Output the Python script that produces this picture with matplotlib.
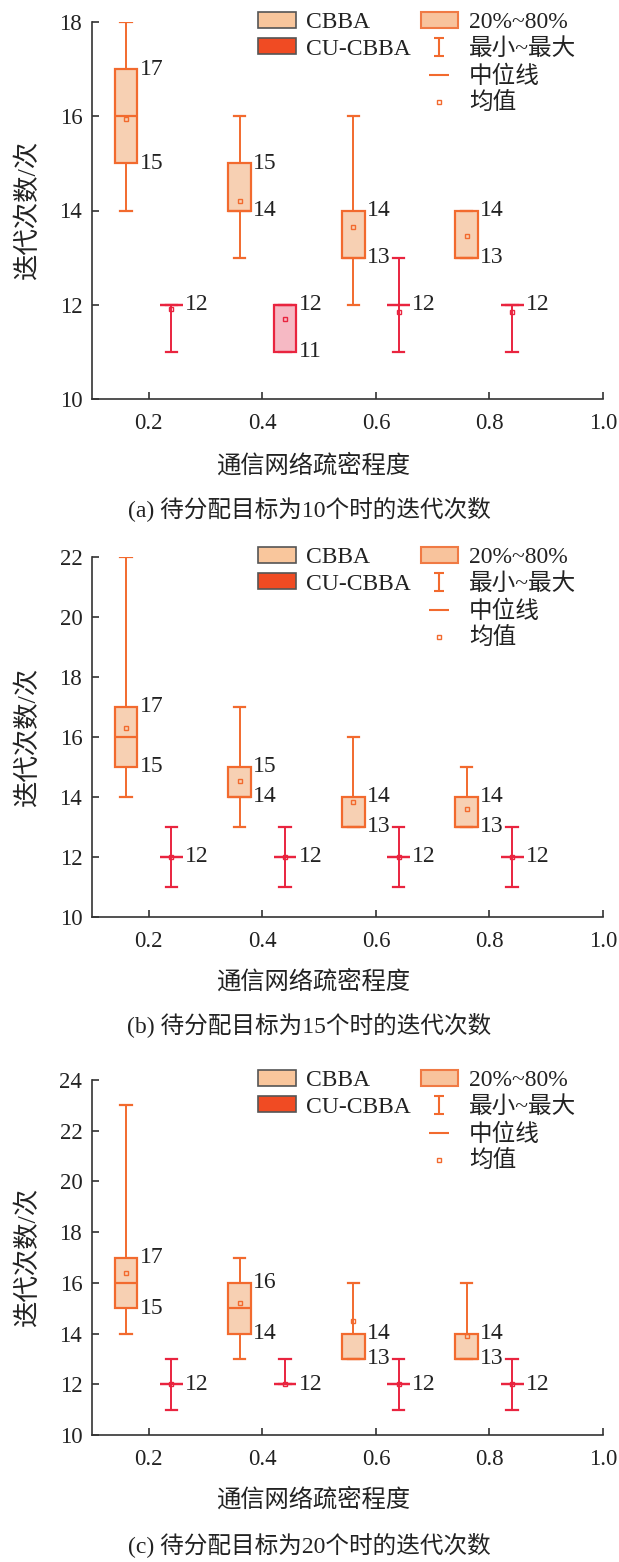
import matplotlib
matplotlib.use("Agg")
import matplotlib.pyplot as plt
from matplotlib.patches import Patch
from matplotlib.lines import Line2D
from matplotlib.path import Path

plt.rcParams['font.family'] = ['Liberation Serif', 'Noto Sans CJK SC']
plt.rcParams['axes.unicode_minus'] = False

# ---- data -------------------------------------------------------------
density_ticks = [0.2, 0.4, 0.6, 0.8, 1.0]
cbba_pos = [0.16, 0.36, 0.56, 0.76]
cu_pos = [0.24, 0.44, 0.64, 0.84]

# (a) 10 targets
a_cbba_min = [14, 13, 12, 13]
a_cbba_q20 = [15, 14, 13, 13]
a_cbba_med = [16, 14, 13, 13]
a_cbba_q80 = [17, 15, 14, 14]
a_cbba_max = [18, 16, 16, 14]
a_cbba_mean = [15.95, 14.2, 13.65, 13.45]
a_cu_min = [11, 11, 11, 11]
a_cu_q20 = [12, 11, 12, 12]
a_cu_med = [12, 12, 12, 12]
a_cu_q80 = [12, 12, 12, 12]
a_cu_max = [12, 12, 13, 12]
a_cu_mean = [11.9, 11.7, 11.85, 11.85]

# (b) 15 targets
b_cbba_min = [14, 13, 13, 13]
b_cbba_q20 = [15, 14, 13, 13]
b_cbba_med = [16, 14, 13, 13]
b_cbba_q80 = [17, 15, 14, 14]
b_cbba_max = [22, 17, 16, 15]
b_cbba_mean = [16.3, 14.55, 13.85, 13.6]
b_cu_min = [11, 11, 11, 11]
b_cu_q20 = [12, 12, 12, 12]
b_cu_med = [12, 12, 12, 12]
b_cu_q80 = [12, 12, 12, 12]
b_cu_max = [13, 13, 13, 13]
b_cu_mean = [12, 12, 12, 12]

# (c) 20 targets
c_cbba_min = [14, 13, 13, 13]
c_cbba_q20 = [15, 14, 13, 13]
c_cbba_med = [16, 15, 13, 13]
c_cbba_q80 = [17, 16, 14, 14]
c_cbba_max = [23, 17, 16, 16]
c_cbba_mean = [16.4, 15.2, 14.5, 13.9]
c_cu_min = [11, 12, 11, 11]
c_cu_q20 = [12, 12, 12, 12]
c_cu_med = [12, 12, 12, 12]
c_cu_q80 = [12, 12, 12, 12]
c_cu_max = [13, 13, 13, 13]
c_cu_mean = [12, 12, 12, 12]

panels = [
    dict(cbba=(a_cbba_min, a_cbba_q20, a_cbba_med, a_cbba_q80, a_cbba_max, a_cbba_mean),
         cu=(a_cu_min, a_cu_q20, a_cu_med, a_cu_q80, a_cu_max, a_cu_mean),
         ymax=18, caption='(a) 待分配目标为10个时的迭代次数'),
    dict(cbba=(b_cbba_min, b_cbba_q20, b_cbba_med, b_cbba_q80, b_cbba_max, b_cbba_mean),
         cu=(b_cu_min, b_cu_q20, b_cu_med, b_cu_q80, b_cu_max, b_cu_mean),
         ymax=22, caption='(b) 待分配目标为15个时的迭代次数'),
    dict(cbba=(c_cbba_min, c_cbba_q20, c_cbba_med, c_cbba_q80, c_cbba_max, c_cbba_mean),
         cu=(c_cu_min, c_cu_q20, c_cu_med, c_cu_q80, c_cu_max, c_cu_mean),
         ymax=24, caption='(c) 待分配目标为20个时的迭代次数'),
]

# ---- style ------------------------------------------------------------
ORANGE = '#F26A2E'
ORANGE_FILL = '#F7D0B3'
RED = '#E9243F'
RED_FILL = '#F6B9C4'
TXT = '#222222'
W = 0.04

W_PX, H_PX = 619, 1562
fig = plt.figure(figsize=(W_PX / 100, H_PX / 100), dpi=100)

# axes rectangles in pixel units: (left, top, right, bottom)
rects = [(92, 22, 603, 399), (92, 557, 603, 917), (92, 1080, 603, 1435)]
xlabel_y = [466, 982, 1500]
caption_y = [509, 1025, 1545]

# I-shaped marker for the min~max legend entry
ipath = Path([(-0.6, 1), (0.6, 1), (0, 1), (0, -1), (-0.6, -1), (0.6, -1)],
             [Path.MOVETO, Path.LINETO, Path.MOVETO, Path.LINETO, Path.MOVETO, Path.LINETO])


def stats(series):
    lo, q1, med, q3, hi, mean = series
    return [dict(whislo=lo[i], q1=q1[i], med=med[i], q3=q3[i], whishi=hi[i],
                 mean=mean[i], fliers=[]) for i in range(len(lo))]


def fmt(v):
    return f'{v:g}'


for k, p in enumerate(panels):
    l, t, r, b = rects[k]
    ax = fig.add_axes([l / W_PX, 1 - b / H_PX, (r - l) / W_PX, (b - t) / H_PX])

    for series, pos, ec, fc in [(p['cbba'], cbba_pos, ORANGE, ORANGE_FILL),
                                (p['cu'], cu_pos, RED, RED_FILL)]:
        ax.bxp(stats(series), positions=pos, widths=W, capwidths=W / 2,
               patch_artist=True, showmeans=True, showfliers=False, manage_ticks=False,
               boxprops=dict(facecolor=fc, edgecolor=ec, linewidth=1.6),
               whiskerprops=dict(color=ec, linewidth=1.4),
               capprops=dict(color=ec, linewidth=1.6),
               medianprops=dict(color=ec, linewidth=1.6),
               meanprops=dict(marker='s', markersize=3.5, markerfacecolor='none',
                              markeredgecolor=ec, markeredgewidth=1.0))
        q1s, q3s = series[1], series[3]
        for i, x in enumerate(pos):
            xt = x + W / 2 + 0.004
            if q1s[i] == q3s[i]:
                ax.text(xt, q1s[i], fmt(q1s[i]), ha='left', va='center',
                        fontsize=17, color=TXT)
            else:
                ax.text(xt, q3s[i], fmt(q3s[i]), ha='left', va='center',
                        fontsize=17, color=TXT)
                ax.text(xt, q1s[i], fmt(q1s[i]), ha='left', va='center',
                        fontsize=17, color=TXT)

    ax.set_xlim(0.1, 1.0)
    ax.set_ylim(10, p['ymax'])
    ax.set_xticks(density_ticks)
    ax.set_xticklabels([f'{v:.1f}' for v in density_ticks])
    ax.set_yticks(range(10, p['ymax'] + 1, 2))
    for s in ('top', 'right'):
        ax.spines[s].set_visible(False)
    for s in ('left', 'bottom'):
        ax.spines[s].set_linewidth(1.2)
        ax.spines[s].set_color('#333333')
    ax.tick_params(direction='in', length=5, width=1.2, colors='#333333',
                   labelsize=16.5, labelcolor=TXT)
    ax.tick_params(axis='x', pad=10)
    ax.tick_params(axis='y', pad=7)

    ax.set_ylabel('迭代次数/次', fontsize=19, color=TXT)
    ax.yaxis.set_label_coords((40 - l) / (r - l), 0.5)
    fig.text(313 / W_PX, 1 - xlabel_y[k] / H_PX, '通信网络疏密程度', ha='center',
             va='center', fontsize=17.5, color=TXT)
    fig.text(0.5, 1 - caption_y[k] / H_PX, p['caption'], ha='center', va='center',
             fontsize=17, color=TXT)

    handles = [
        Patch(facecolor='#F9C69C', edgecolor='#555555', linewidth=1.2),
        Patch(facecolor='#F04B23', edgecolor='#555555', linewidth=1.2),
        Line2D([], [], alpha=0), Line2D([], [], alpha=0),
        Patch(facecolor='#F8C39C', edgecolor='#F07A44', linewidth=1.5),
        Line2D([], [], ls='none', marker=ipath, markersize=13, markeredgewidth=1.5,
               color=ORANGE),
        Line2D([], [], ls='none', marker='_', markersize=14, markeredgewidth=1.5,
               color=ORANGE),
        Line2D([], [], ls='none', marker='s', markersize=3.5, markerfacecolor='none',
               markeredgecolor=ORANGE, markeredgewidth=1.0),
    ]
    labels = ['CBBA', 'CU-CBBA', '', '', '20%~80%', '最小~最大', '中位线', '均值']
    ax.legend(handles, labels, ncol=2, loc='upper left',
              bbox_to_anchor=(258 / W_PX, 1 - (t - 10) / H_PX),
              bbox_transform=fig.transFigure, frameon=False, fontsize=17,
              borderpad=0, borderaxespad=0, handlelength=1.6, handleheight=0.65,
              handletextpad=0.45, labelspacing=0.22, columnspacing=0.4,
              labelcolor=TXT)

fig.savefig('out.png', dpi=100)
